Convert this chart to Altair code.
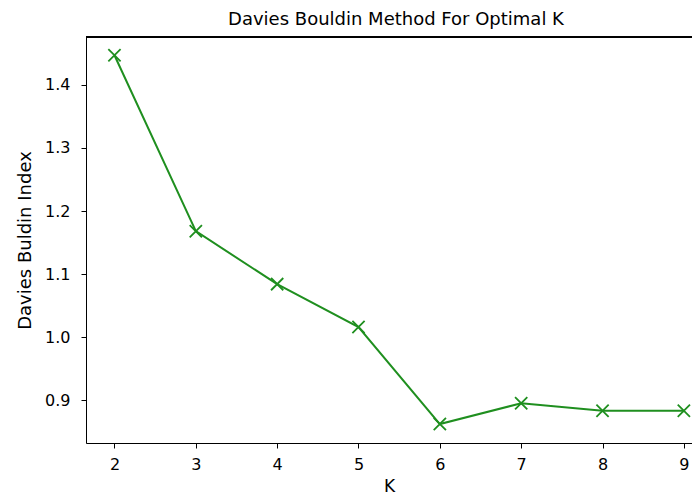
import altair as alt
import pandas as pd

k_values = [2, 3, 4, 5, 6, 7, 8, 9]
db_index = [1.447, 1.168, 1.084, 1.016, 0.862, 0.895, 0.883, 0.883]
x_ticks = [2, 3, 4, 5, 6, 7, 8, 9]
y_ticks = [0.9, 1.0, 1.1, 1.2, 1.3, 1.4]

df = pd.DataFrame({"K": k_values, "DB": db_index})

W, H = 606, 406
COLOR = "#1f8f1f"
FONT = "DejaVu Sans"

x = alt.X("K:Q", title="K",
          scale=alt.Scale(domain=[1.65, 9.10], nice=False, zero=False),
          axis=alt.Axis(values=x_ticks, format="d", grid=False, tickSize=5,
                        labelPadding=8, titlePadding=6, domainColor="black",
                        tickColor="black", labelColor="black", titleColor="black",
                        labelFontSize=16, titleFontSize=17, titleFontWeight="normal",
                        labelFont=FONT, titleFont=FONT, labelFlush=False))
y = alt.Y("DB:Q", title="Davies Buldin Index",
          scale=alt.Scale(domain=[0.832, 1.476], nice=False, zero=False),
          axis=alt.Axis(values=y_ticks, format=".1f", grid=False, tickSize=5,
                        labelPadding=11, titlePadding=10, domainColor="black",
                        tickColor="black", labelColor="black", titleColor="black",
                        labelFontSize=16, titleFontSize=18, titleFontWeight="normal",
                        labelFont=FONT, titleFont=FONT, labelFlush=False))

line = alt.Chart(df).mark_line(color=COLOR, strokeWidth=2).encode(x=x, y=y)
pts = alt.Chart(df).mark_point(
    shape="M-1,-1L1,1M-1,1L1,-1", filled=False, color=COLOR,
    strokeWidth=1.8, size=150, opacity=1
).encode(x="K:Q", y="DB:Q")

top = alt.Chart(df).mark_rule(color="black", strokeWidth=1).encode(
    x=alt.value(0), x2=alt.value(W), y=alt.value(0))

chart = alt.layer(line, pts, top).properties(
    width=W, height=H,
    title=alt.TitleParams("Davies Bouldin Method For Optimal K", font=FONT,
                          fontSize=18, fontWeight="normal", color="black",
                          offset=8, dx=7),
    autosize=alt.AutoSizeParams(type="none"),
    padding={"left": 78, "top": 29, "right": 0, "bottom": 56},
).configure_view(stroke=None).configure(background="white")

chart.save("out.html", embed_options={"renderer": "svg", "actions": False})
